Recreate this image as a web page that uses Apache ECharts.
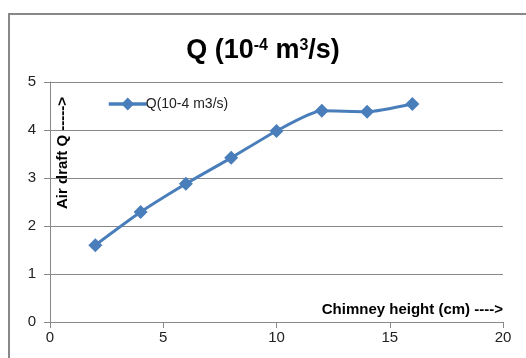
<!DOCTYPE html>
<html>
<head>
<meta charset="utf-8">
<script src="https://cdn.jsdelivr.net/npm/echarts@6/dist/echarts.min.js"></script>
<style>
  html, body { margin: 0; padding: 0; background: #fff; }
  #chart { width: 526px; height: 358px; }
</style>
</head>
<body>
<div id="chart"></div>
<script>
// Chimney height (cm) vs air draft Q (10^-4 m^3/s)
const heights = [2, 4, 6, 8, 10, 12, 14, 16];
const airDraft = [1.60, 2.29, 2.88, 3.42, 3.98, 4.40, 4.38, 4.54];
const seriesName = 'Q(10-4 m3/s)';
const xTitle = 'Chimney height (cm) ---->';
const yTitle = 'Air draft Q ----->';

const FONT = '"Liberation Sans", "DejaVu Sans", sans-serif';
const chart = echarts.init(document.getElementById('chart'), null, { renderer: 'canvas' });

chart.setOption({
  animation: false,
  textStyle: { fontFamily: FONT },
  title: {
    text: '{b|Q (10}{s|-4}{b| m}{s|3}{b|/s)}',
    left: 'center',
    top: 27,
    textStyle: {
      rich: {
        b: { fontFamily: FONT, fontWeight: 'bold', fontSize: 27, color: '#000', verticalAlign: 'bottom', lineHeight: 32 },
        s: { fontFamily: FONT, fontWeight: 'bold', fontSize: 16, color: '#000', verticalAlign: 'top', padding: [6, 0, 0, 0], lineHeight: 32 }
      }
    }
  },
  legend: {
    left: 102,
    top: 92,
    itemWidth: 38,
    itemHeight: 16,
    itemGap: 2,
    lineStyle: { width: 3.5 },
    textStyle: { fontFamily: FONT, fontSize: 14, color: '#222', padding: [0, 0, 0, -6] },
    data: [seriesName]
  },
  grid: { left: 50, right: 23, top: 82, bottom: 36, containLabel: false },
  xAxis: {
    type: 'value',
    min: 0, max: 20, interval: 5,
    axisLine: { show: true, lineStyle: { color: '#888', width: 1 } },
    axisTick: { show: true, length: 6, lineStyle: { color: '#888' } },
    axisLabel: { fontFamily: FONT, fontSize: 15, color: '#222', margin: 8 },
    splitLine: { show: false }
  },
  yAxis: {
    type: 'value',
    min: 0, max: 5, interval: 1,
    axisLine: { show: true, lineStyle: { color: '#888', width: 1 } },
    axisTick: { show: true, length: 6, lineStyle: { color: '#888' } },
    axisLabel: { fontFamily: FONT, fontSize: 15, color: '#222', margin: 14 },
    splitLine: { show: true, lineStyle: { color: '#888', width: 1 } }
  },
  series: [{
    name: seriesName,
    type: 'line',
    smooth: 0.2,
    data: heights.map((h, i) => [h, airDraft[i]]),
    symbol: 'diamond',
    symbolSize: 14,
    itemStyle: { color: '#4a7ebb' },
    lineStyle: { color: '#4a7ebb', width: 3 }
  }],
  graphic: [
    {
      type: 'rect',
      shape: { x: 9, y: 14, width: 600, height: 400 },
      style: { fill: 'none', stroke: '#888', lineWidth: 2 },
      silent: true, z: -1
    },
    {
      type: 'text',
      x: 63, y: 153,
      rotation: Math.PI / 2,
      style: {
        text: yTitle,
        fontFamily: FONT, fontWeight: 'bold', fontSize: 15, fill: '#000',
        align: 'center', verticalAlign: 'middle'
      }
    },
    {
      type: 'text',
      x: 503, y: 310,
      style: {
        text: xTitle,
        fontFamily: FONT, fontWeight: 'bold', fontSize: 15, fill: '#000',
        align: 'right', verticalAlign: 'middle'
      }
    }
  ]
});
</script>
</body>
</html>
